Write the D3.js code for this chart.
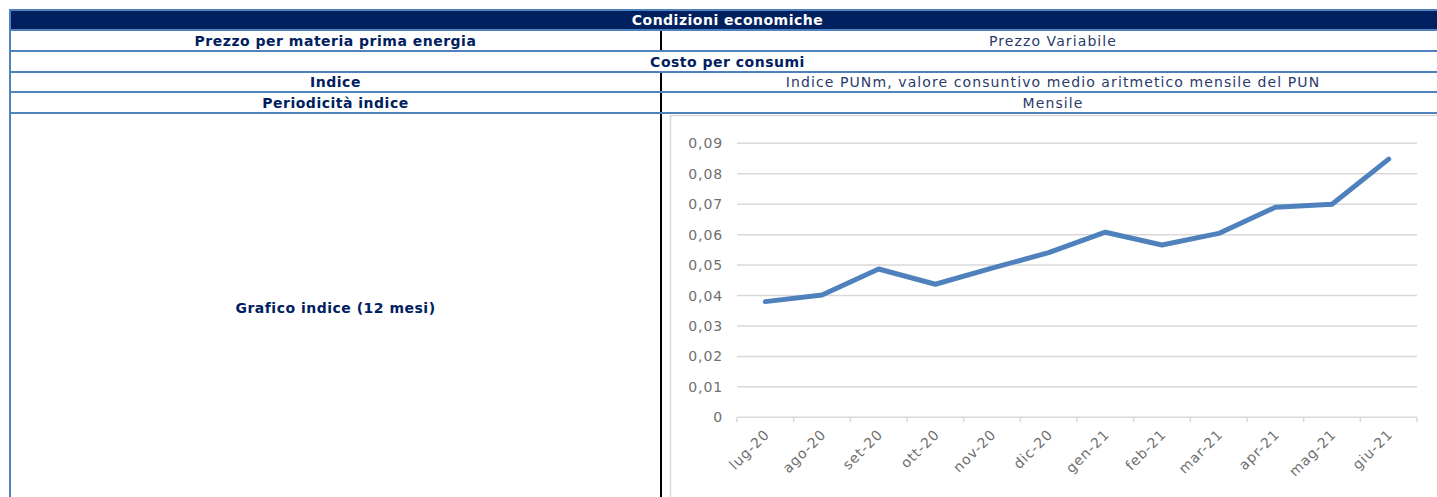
<!DOCTYPE html>
<html>
  <head>
    <meta charset="utf-8">
    <style>
      body { margin: 0; background: #fff; }
      text { font-family: "DejaVu Sans", sans-serif; }
    </style>
  </head>
  <body>
    <script src="https://d3js.org/d3.v7.min.js"></script>
    <script>
      // data
      var months = ["lug-20", "ago-20", "set-20", "ott-20", "nov-20", "dic-20",
                    "gen-21", "feb-21", "mar-21", "apr-21", "mag-21", "giu-21"];
      var punValues = [0.0380, 0.0402, 0.0487, 0.0437, 0.0490, 0.0541,
                       0.0608, 0.0566, 0.0604, 0.0690, 0.0700, 0.0848];
      var yTicks = [0, 0.01, 0.02, 0.03, 0.04, 0.05, 0.06, 0.07, 0.08, 0.09];

      var tableRows = [
        {left: "Condizioni economiche", right: null, kind: "header"},
        {left: "Prezzo per materia prima energia", right: "Prezzo Variabile", kind: "split"},
        {left: "Costo per consumi", right: null, kind: "full"},
        {left: "Indice", right: "Indice PUNm, valore consuntivo medio aritmetico mensile del PUN", kind: "split"},
        {left: "Periodicità indice", right: "Mensile", kind: "split"}
      ];

      var navy = "#002060", blue = "#4f81bd";
      var W = 1437, H = 497;
      var tLeft = 10, tRight = 1445, divX = 661;
      var rowY = [10, 30, 51, 72, 92, 113];

      var svg = d3.select("body").append("svg")
        .attr("width", W).attr("height", H);

      // header
      svg.append("rect")
        .attr("x", tLeft).attr("y", rowY[0])
        .attr("width", tRight - tLeft).attr("height", rowY[1] - rowY[0])
        .attr("fill", navy);

      function boldLabel(x, y, s, col){
        return svg.append("text")
          .attr("x", x).attr("y", y)
          .attr("text-anchor", "middle").attr("dominant-baseline", "middle")
          .style("font-size", "14px").style("font-weight", "bold")
          .style("letter-spacing", "0.5px")
          .style("fill", col || navy).text(s);
      }

      tableRows.forEach(function(r, i){
        var yc = (rowY[i] + rowY[i + 1]) / 2 + 1;
        if (r.kind == "split"){
          boldLabel((tLeft + divX) / 2, yc, r.left);
          svg.append("text")
            .attr("x", (divX + tRight) / 2).attr("y", yc)
            .attr("text-anchor", "middle").attr("dominant-baseline", "middle")
            .style("font-size", "14px")
            .style("letter-spacing", "1.1px")
            .style("fill", "#2a3a6a").text(r.right);
          svg.append("line")
            .attr("x1", divX).attr("x2", divX)
            .attr("y1", rowY[i]).attr("y2", rowY[i + 1])
            .style("stroke", "#000").style("stroke-width", 2);
        } else {
          boldLabel((tLeft + tRight) / 2, yc, r.left, r.kind == "header" ? "#fff" : navy);
        }
      });

      // last row: chart row
      boldLabel((tLeft + divX) / 2, 309, "Grafico indice (12 mesi)");
      svg.append("line")
        .attr("x1", divX).attr("x2", divX)
        .attr("y1", rowY[5]).attr("y2", H)
        .style("stroke", "#000").style("stroke-width", 2);

      // table borders
      rowY.forEach(function(y){
        svg.append("line")
          .attr("x1", tLeft - 1).attr("x2", tRight)
          .attr("y1", y).attr("y2", y)
          .style("stroke", blue).style("stroke-width", 2);
      });
      svg.append("line")
        .attr("x1", tLeft).attr("x2", tLeft)
        .attr("y1", rowY[0] - 1).attr("y2", H)
        .style("stroke", blue).style("stroke-width", 2);

      // chart frame
      svg.append("rect")
        .attr("x", 670.5).attr("y", 115.5)
        .attr("width", 800).attr("height", 500)
        .attr("fill", "#fff")
        .style("stroke", "#d9d9d9").style("stroke-width", 1.5);

      var x = d3.scaleBand().domain(months).range([737, 1417]);
      var y = d3.scaleLinear().domain([0, 0.09]).range([417.3, 143.3]);

      // gridlines
      svg.append("g").selectAll("line")
        .data(yTicks.filter(function(d){ return d > 0; }))
        .enter().append("line")
        .attr("x1", 737).attr("x2", 1417)
        .attr("y1", function(d){ return y(d); })
        .attr("y2", function(d){ return y(d); })
        .style("stroke", "#d9d9d9").style("stroke-width", 1.5);

      // y axis labels
      var fmt = function(d){ return d == 0 ? "0" : d3.format(".2f")(d).replace(".", ","); };
      var yAxis = svg.append("g")
        .attr("transform", "translate(737,0)")
        .call(d3.axisLeft(y).tickValues(yTicks).tickFormat(fmt).tickSize(0).tickPadding(14));
      yAxis.select(".domain").remove();
      yAxis.selectAll("text")
        .style("font-size", "14px").style("letter-spacing", "0.9px")
        .style("fill", "#6f6f6f").attr("font-family", null);

      // x axis
      var xAxis = svg.append("g")
        .attr("transform", "translate(0," + y(0) + ")")
        .call(d3.axisBottom(x).tickSize(0).tickPadding(0));
      xAxis.select(".domain").style("stroke", "#d9d9d9").style("stroke-width", 1.5)
        .attr("d", "M737,0H1417");
      // tick marks on band boundaries
      xAxis.append("g").selectAll("line")
        .data(months.concat([null]))
        .enter().append("line")
        .attr("x1", function(d, i){ return 737 + i * x.step(); })
        .attr("x2", function(d, i){ return 737 + i * x.step(); })
        .attr("y1", 0).attr("y2", 5)
        .style("stroke", "#d9d9d9").style("stroke-width", 1.5);
      xAxis.selectAll(".tick text")
        .attr("text-anchor", "end")
        .attr("dy", null).attr("y", 0)
        .attr("transform", "translate(5,18) rotate(-45)")
        .style("font-size", "14px").style("letter-spacing", "0.9px")
        .style("fill", "#6f6f6f").attr("font-family", null);

      // line
      var line = d3.line()
        .x(function(d, i){ return x(months[i]) + x.bandwidth() / 2; })
        .y(function(d){ return y(d); });
      svg.append("path")
        .datum(punValues)
        .attr("d", line)
        .attr("fill", "none")
        .style("stroke", "#4f81bd").style("stroke-width", 5)
        .style("stroke-linecap", "round").style("stroke-linejoin", "round");
    </script>
  </body>
</html>
